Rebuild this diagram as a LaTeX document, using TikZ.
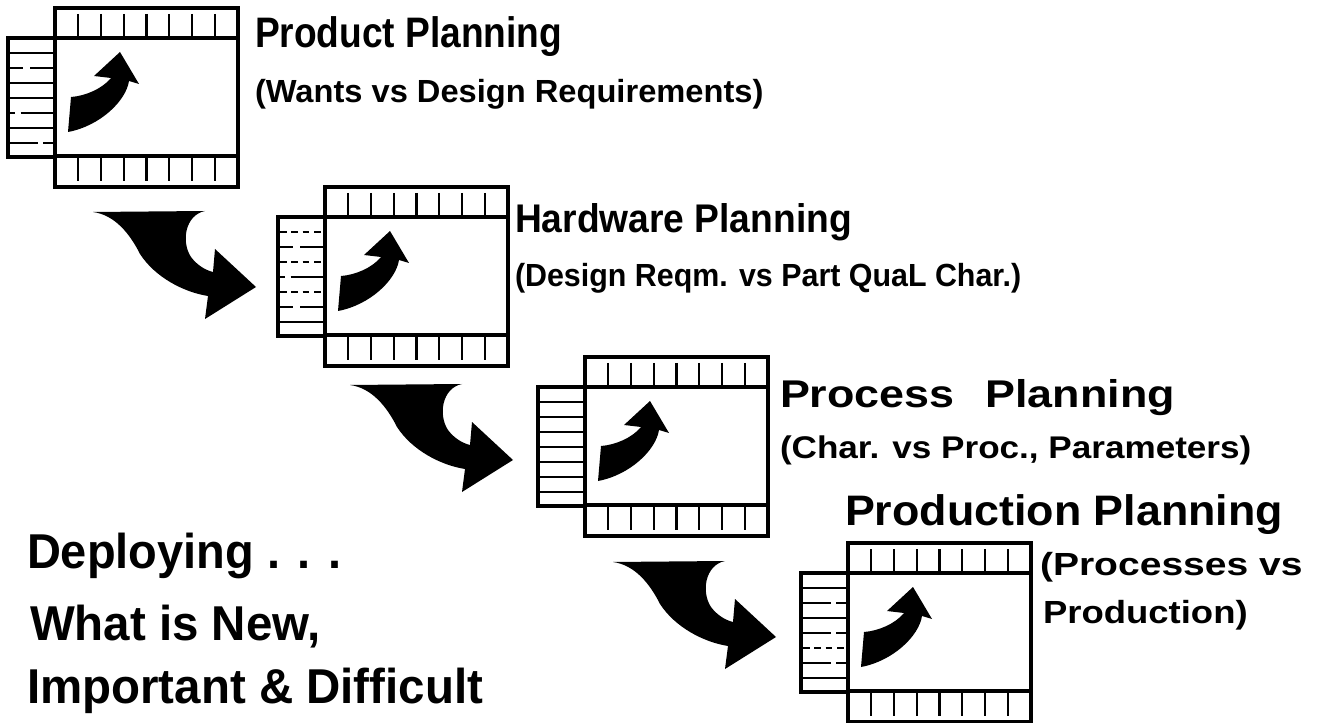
\documentclass[tikz,border=0pt]{standalone}
\usepackage{fontspec}
\setmainfont{Liberation Sans}
\usepackage{graphicx}

\tikzset{
  frame/.style={line width=2.4pt, line join=miter},
  rule/.style={line width=1.6pt},
  br1/.style={dash pattern=on 10pt off 5pt on 22pt off 2pt},
  br2/.style={dash pattern=on 5pt off 3.5pt},
  br3/.style={dash pattern=on 21pt off 4pt on 10pt off 2pt},
  br4/.style={dash pattern=on 4pt off 4pt on 28pt off 2pt},
  lbl/.style={anchor=base west, inner sep=0pt, outer sep=0pt, font=\bfseries},
  % one planning matrix: top strip, body, bottom strip and left strip
  qfd/.pic={
    \draw[frame] (0,0) rectangle (183,179);
    \draw[frame] (0,30) -- (183,30) (0,148) -- (183,148);
    \draw[frame] (0,30) -- (-47,30) -- (-47,149) -- (0,149);
    \foreach \i in {1,...,7} {
      \draw[rule] (\i*22.875,6) -- (\i*22.875,30);
      \draw[rule] (\i*22.875,148) -- (\i*22.875,173);
    }
    \foreach \k/\st in {#1} {
      \draw[rule,\st] (-45,30+\k*15) -- (0,30+\k*15);
    }
    % small curved arrow in the body
    \fill[black] (16,89) .. controls (30,88) and (47,81) .. (56,70)
      -- (39,68) -- (65,44) -- (84,76) -- (74,73)
      .. controls (71,93) and (45,118) .. (13,124) -- cycle;
  },
  % large curved arrow from one matrix to the next
  bigarr/.pic={
    \fill[black] (0,0) -- (112,-1)
      .. controls (92,3) and (88,30) .. (98,45)
      .. controls (104,53) and (112,58) .. (120,60)
      -- (122,37) -- (163,75) -- (112,107) -- (115,84)
      .. controls (90,80) and (62,65) .. (47,42)
      .. controls (37,22) and (22,3) .. (0,0) -- cycle;
  }
}

\begin{document}
\begin{tikzpicture}[x=0.75pt, y=-0.75pt]
\useasboundingbox (0,0) rectangle (1324,723);

% matrices
\pic (b1) at (55,8)  {qfd={1/solid,2/br1,3/solid,4/solid,5/br4,6/solid,7/br3}};
\pic (b2) at (325,187) {qfd={1/br2,2/br1,3/br2,4/br4,5/br2,6/br1,7/solid}};
\pic (b3) at (585,357) {qfd={1/solid,2/solid,3/solid,4/solid,5/solid,6/solid,7/solid}};
\pic (b4) at (848,543) {qfd={1/solid,2/br3,3/solid,4/br3,5/br2,6/br3,7/solid}};

% arrows between matrices
\coordinate (a1) at (93,212);
\coordinate (a2) at (350,385);
\coordinate (a3) at (613,562);
\pic at (a1) {bigarr};
\pic at (a2) {bigarr};
\pic at (a3) {bigarr};

% labels
\node[lbl] (t1) at (255,48)  {\fontsize{32}{36}\selectfont\scalebox{0.87}[1]{Product Planning}};
\node[lbl] (s1) at (255,103) {\fontsize{24}{28}\selectfont\scalebox{1.02}[1]{(Wants vs Design Requirements)}};
\node[lbl] (t2) at (515,233) {\fontsize{30}{34}\selectfont\scalebox{0.93}[1]{Hardware Planning}};
\node[lbl] (s2) at (515,287) {\fontsize{24}{28}\selectfont\scalebox{0.95}[1]{(Design Reqm. vs Part QuaL Char.)}};
\node[lbl] (t3) at (780,407) {\fontsize{29}{33}\selectfont\scalebox{1.16}[1]{Process\hspace{20pt}Planning}};
\node[lbl] (s3) at (780,458) {\fontsize{23.5}{28}\selectfont\scalebox{1.12}[1]{(Char. vs Proc., Parameters)}};
\node[lbl] (t4) at (845,525) {\fontsize{32}{36}\selectfont\scalebox{1.05}[1]{Production Planning}};
\node[lbl] (s4a) at (1040,575) {\fontsize{24}{28}\selectfont\scalebox{1.22}[1]{(Processes vs}};
\node[lbl] (s4b) at (1043,623) {\fontsize{24}{28}\selectfont\scalebox{1.14}[1]{Production)}};
\node[lbl] (d1) at (27,568) {\fontsize{36.7}{42}\selectfont\scalebox{0.96}[1]{Deploying . . .}};
\node[lbl] (d2) at (30,640) {\fontsize{36.7}{42}\selectfont\scalebox{0.97}[1]{What is New,}};
\node[lbl] (d3) at (27,703) {\fontsize{36.7}{42}\selectfont\scalebox{0.97}[1]{Important \& Difficult}};
\end{tikzpicture}
\end{document}
